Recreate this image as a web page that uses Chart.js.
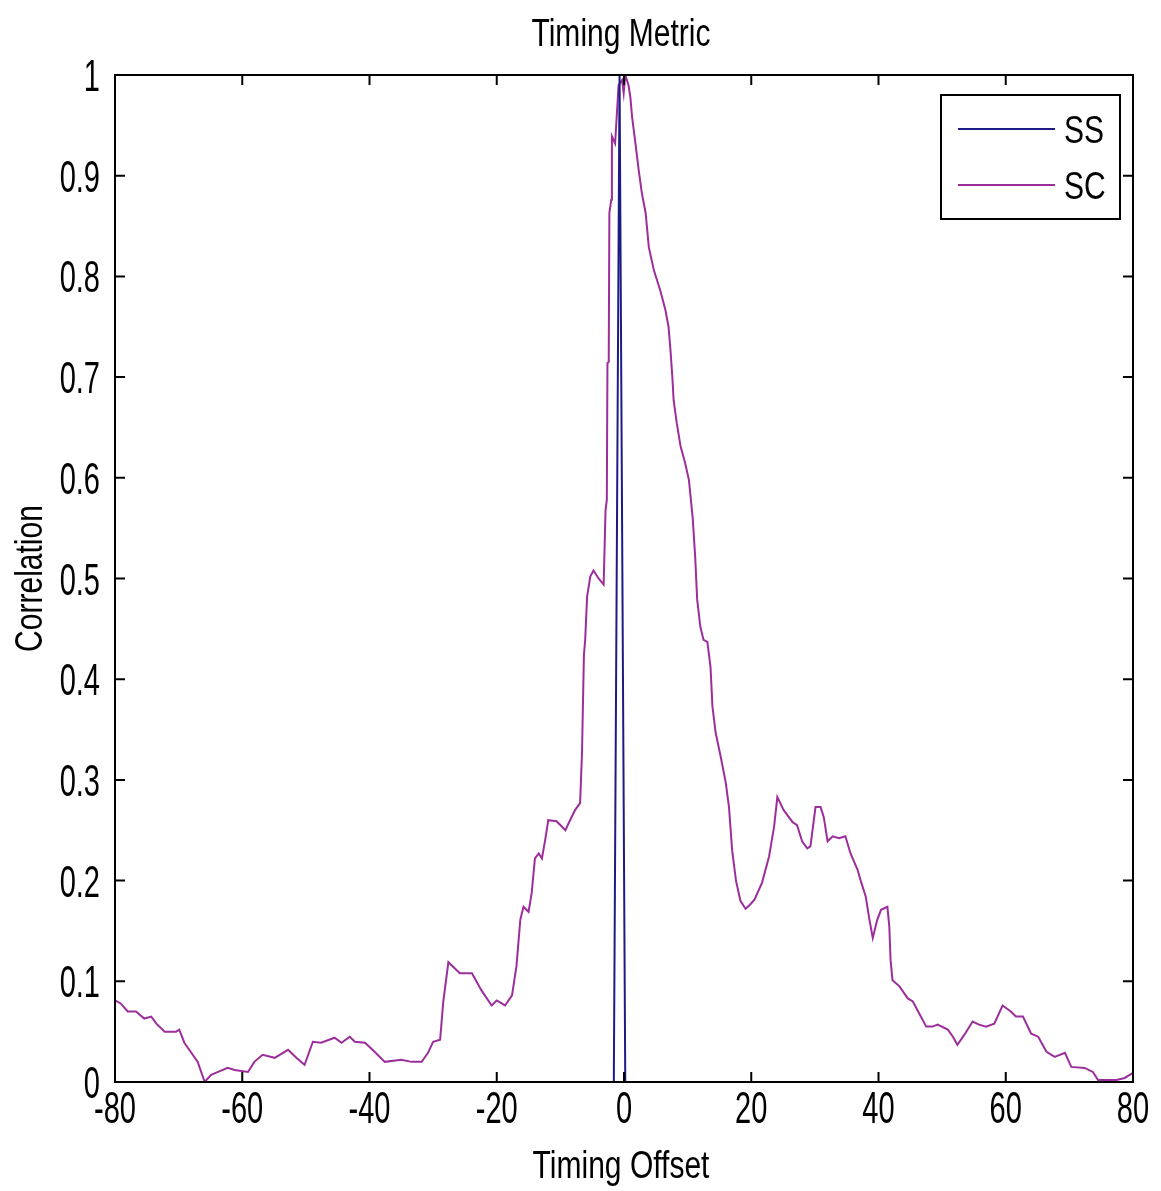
<!DOCTYPE html>
<html>
<head>
<meta charset="utf-8">
<script src="https://cdn.jsdelivr.net/npm/chart.js@4.4.1/dist/chart.umd.min.js"></script>
<style>
  html, body { margin: 0; padding: 0; background: #ffffff; }
  #grafico { display: block; }
</style>
</head>
<body>
<canvas id="grafico" width="1161" height="1191"></canvas>
<script>
// dados
const ssX = [-1.6, -0.7, 0.2];
const ssY = [0, 1, 0];

const scX = [-80, -79.1, -78, -76.7, -75.4, -74.3, -73.5, -72.2, -70.4, -69.9, -69.1, -68, -67, -65.9,
  -64.9, -63.8, -62.3, -61.2, -59.1, -58.1, -56.8, -54.9, -52.8, -51.5, -50.2, -48.9, -47.6, -45.5,
  -44.4, -43.1, -42.3, -40.7, -39.2, -37.6, -35, -33.4, -31.8, -30.8, -30, -28.9, -28.4, -27.6,
  -25.8, -23.9, -22.4, -20.8, -20, -18.7, -17.6, -16.9, -16.3, -15.8, -15, -14.5, -14, -13.4,
  -12.9, -12.4, -11.9, -10.6, -9.2, -8.7, -7.7, -6.9, -6.6, -6.3, -6.1, -5.8, -5.3, -4.8, -4,
  -3.2, -2.9, -2.7, -2.6, -2.4, -2.3, -2, -1.9, -1.4, -0.85, -0.3, -0.05, 0.2, 0.7, 1, 1.26, 1.8,
  2.3, 2.8, 3.4, 3.9, 4.7, 5.7, 6.5, 7, 7.3, 7.6, 7.8, 8.3, 8.9, 9.6, 10.2, 10.8, 11.2, 11.5, 12,
  12.5, 13.1, 13.6, 13.9, 14.4, 15.2, 16, 16.5, 17, 17.6, 18.3, 19.1, 19.8, 20.5, 21.7, 22.8,
  23.6, 24.1, 25.1, 26.5, 27.2, 28, 28.8, 29.3, 30.1, 30.9, 31.4, 32, 32.8, 33.8, 34.8, 35.6,
  36.7, 37.2, 38, 38.5, 39.1, 39.8, 40.4, 41.4, 41.7, 41.9, 42.2, 43.3, 44.6, 45.4, 46.4, 47.5,
  48.5, 49.3, 50.9, 51.7, 52.4, 53.5, 54.8, 55.8, 56.9, 58.2, 59.5, 60.8, 61.6, 62.7, 64, 65.1,
  66.4, 67.7, 69.3, 70.3, 72.4, 73.7, 74.5, 77.4, 78.7, 80];
const scY = [0.081, 0.078, 0.07, 0.07, 0.063, 0.065, 0.058, 0.05, 0.05, 0.052, 0.039, 0.029, 0.02, 0,
  0.007, 0.01, 0.014, 0.012, 0.01, 0.02, 0.027, 0.024, 0.032, 0.024, 0.017, 0.04, 0.039, 0.044,
  0.039, 0.045, 0.04, 0.039, 0.03, 0.02, 0.022, 0.02, 0.02, 0.029, 0.04, 0.042, 0.08, 0.119,
  0.108, 0.108, 0.091, 0.076, 0.081, 0.076, 0.086, 0.115, 0.161, 0.174, 0.169, 0.188, 0.222, 0.227,
  0.222, 0.24, 0.26, 0.259, 0.25, 0.257, 0.27, 0.277, 0.327, 0.424, 0.439, 0.482, 0.502, 0.508, 0.5,
  0.494, 0.568, 0.578, 0.714, 0.715, 0.863, 0.876, 0.939, 0.932, 0.99, 0.995, 0.982, 1, 0.99, 0.978, 0.959, 0.932,
  0.906, 0.883, 0.863, 0.829, 0.806, 0.786, 0.767, 0.75, 0.727, 0.7, 0.677, 0.654, 0.631, 0.615, 0.598, 0.56, 0.52, 0.479, 0.452,
  0.439, 0.437, 0.412, 0.373, 0.347, 0.323, 0.297, 0.273, 0.23, 0.2, 0.18, 0.172, 0.176, 0.181, 0.198, 0.224,
  0.254, 0.283, 0.27, 0.258, 0.255, 0.239, 0.232, 0.234, 0.273, 0.273, 0.263, 0.239, 0.244, 0.242, 0.244, 0.227,
  0.211, 0.2, 0.184, 0.164, 0.143, 0.161, 0.171, 0.174, 0.154, 0.121, 0.101, 0.095, 0.083, 0.08, 0.068, 0.055,
  0.055, 0.057, 0.052, 0.045, 0.037, 0.047, 0.06, 0.057, 0.055, 0.058, 0.076, 0.07, 0.065, 0.065, 0.048, 0.045,
  0.03, 0.025, 0.029, 0.015, 0.014, 0.01, 0.002, 0.002, 0.004, 0.009];

const xTicks = [-80, -60, -40, -20, 0, 20, 40, 60, 80];
const yTicks = [0, 0.1, 0.2, 0.3, 0.4, 0.5, 0.6, 0.7, 0.8, 0.9, 1];
const nomes = ["SS", "SC"];
const cores = ["#1c1c84", "#9c2e9c"];
const titulo = "Timing Metric";
const tituloX = "Timing Offset";
const tituloY = "Correlation";

const fonte = "'Liberation Sans', Arial, sans-serif";

// texto estreito (fonte do Matlab e mais alta que larga)
function texto(ctx, str, x, y, tam, sx, alinhar, rot) {
    ctx.save();
    ctx.translate(x, y);
    if (rot) ctx.rotate(rot);
    ctx.scale(sx, 1);
    ctx.font = tam + "px " + fonte;
    ctx.textAlign = alinhar;
    ctx.textBaseline = "alphabetic";
    ctx.fillStyle = "#000";
    ctx.fillText(str, 0, 0);
    ctx.restore();
}

// =============================
// Moldura, ticks internos, textos e legenda
// =============================
const molduraPlugin = {
    id: "moldura",
    afterDraw(chart) {
        const ctx = chart.ctx;
        const a = chart.chartArea;
        const xs = chart.scales.x;
        const ys = chart.scales.y;
        const tam = 10;
        ctx.save();
        ctx.strokeStyle = "#000";
        ctx.lineWidth = 2;
        ctx.strokeRect(a.left, a.top, a.right - a.left, a.bottom - a.top);
        ctx.beginPath();
        xTicks.forEach(v => {
            const px = xs.getPixelForValue(v);
            ctx.moveTo(px, a.bottom); ctx.lineTo(px, a.bottom - tam);
            ctx.moveTo(px, a.top); ctx.lineTo(px, a.top + tam);
        });
        yTicks.forEach(v => {
            const py = ys.getPixelForValue(v);
            ctx.moveTo(a.left, py); ctx.lineTo(a.left + tam, py);
            ctx.moveTo(a.right, py); ctx.lineTo(a.right - tam, py);
        });
        ctx.stroke();

        // rotulos dos ticks
        xTicks.forEach(v => {
            texto(ctx, String(v), xs.getPixelForValue(v), a.bottom + 41, 44, 0.66, "center");
        });
        yTicks.forEach(v => {
            const rot = String(Math.round(v * 10) / 10);
            texto(ctx, rot, a.left - 15, ys.getPixelForValue(v) + 16, 44, 0.66, "right");
        });

        // titulos
        const cx = (a.left + a.right) / 2;
        texto(ctx, titulo, cx - 3, 46, 39, 0.77, "center");
        texto(ctx, tituloX, cx - 3, 1178, 39, 0.77, "center");
        texto(ctx, tituloY, 42, (a.top + a.bottom) / 2, 39, 0.77, "center", -Math.PI / 2);

        // legenda
        const lx = 941, ly = 95, lw = 179, lh = 124;
        ctx.fillStyle = "#fff";
        ctx.fillRect(lx, ly, lw, lh);
        ctx.strokeStyle = "#000";
        ctx.lineWidth = 2;
        ctx.strokeRect(lx, ly, lw, lh);
        nomes.forEach((n, i) => {
            const yy = ly + 34 + i * 56;
            ctx.strokeStyle = cores[i];
            ctx.lineWidth = 2;
            ctx.beginPath();
            ctx.moveTo(lx + 17, yy); ctx.lineTo(lx + 114, yy);
            ctx.stroke();
            texto(ctx, n, lx + 123, yy + 14, 39, 0.77, "left");
        });
        ctx.restore();
    }
};

const ctx = document.getElementById("grafico").getContext("2d");

new Chart(ctx, {
    type: "scatter",
    data: {
        datasets: [
            {
                label: nomes[0],
                data: ssX.map((x, i) => ({ x, y: ssY[i] })),
                showLine: true,
                borderColor: cores[0],
                borderWidth: 2,
                pointRadius: 0,
                tension: 0
            },
            {
                label: nomes[1],
                data: scX.map((x, i) => ({ x, y: scY[i] })),
                showLine: true,
                borderColor: cores[1],
                borderWidth: 2,
                pointRadius: 0,
                tension: 0
            }
        ]
    },
    options: {
        responsive: false,
        animation: false,
        layout: { padding: { left: 0, right: 28, top: 75, bottom: 0 } },
        plugins: {
            legend: { display: false },
            tooltip: { enabled: false },
            title: { display: false }
        },
        scales: {
            x: {
                type: "linear",
                min: -80,
                max: 80,
                afterFit: s => { s.height = 109; },
                afterBuildTicks: s => { s.ticks = xTicks.map(v => ({ value: v })); },
                grid: { display: false },
                border: { display: false },
                ticks: { display: false }
            },
            y: {
                type: "linear",
                min: 0,
                max: 1,
                afterFit: s => { s.width = 115; },
                afterBuildTicks: s => { s.ticks = yTicks.map(v => ({ value: v })); },
                grid: { display: false },
                border: { display: false },
                ticks: { display: false }
            }
        }
    },
    plugins: [molduraPlugin]
});
</script>
</body>
</html>
